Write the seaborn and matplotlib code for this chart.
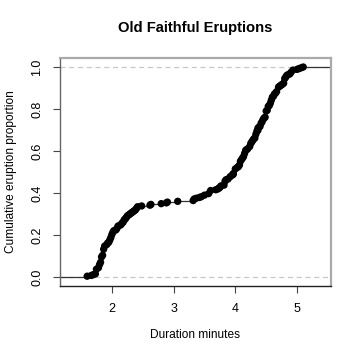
import numpy as np
import pandas as pd
import matplotlib
matplotlib.use("Agg")
import matplotlib.pyplot as plt
import seaborn as sns

title = "Old Faithful Eruptions"
x_label = "Duration minutes"
y_label = "Cumulative eruption proportion"
x_ticks = [2, 3, 4, 5]
y_ticks = [0.0, 0.2, 0.4, 0.6, 0.8, 1.0]

durations = [
    3.600, 1.800, 3.333, 2.283, 4.533, 2.883, 4.700, 3.600, 1.950, 4.350,
    1.833, 3.917, 4.200, 1.750, 4.700, 2.167, 1.750, 4.800, 1.600, 4.250,
    1.800, 1.750, 3.450, 3.067, 4.533, 3.600, 1.967, 4.083, 3.850, 4.433,
    4.300, 4.467, 3.367, 4.033, 3.833, 2.017, 1.867, 4.833, 1.833, 4.783,
    4.350, 1.883, 4.567, 1.750, 4.533, 3.317, 3.833, 2.100, 4.633, 2.000,
    4.800, 4.716, 1.833, 4.833, 1.733, 4.883, 3.717, 1.667, 4.567, 4.317,
    2.233, 4.500, 1.750, 4.800, 1.817, 4.400, 4.167, 4.700, 2.067, 4.700,
    4.033, 1.967, 4.500, 4.000, 1.983, 5.067, 2.017, 4.567, 3.883, 3.600,
    4.133, 4.333, 4.100, 2.633, 4.067, 4.933, 3.950, 4.517, 2.167, 4.000,
    2.200, 4.333, 1.867, 4.817, 1.833, 4.300, 4.667, 3.750, 1.867, 4.900,
    2.483, 4.367, 2.100, 4.500, 4.050, 1.867, 4.700, 1.783, 4.850, 3.683,
    4.733, 2.300, 4.900, 4.417, 1.700, 4.633, 2.317, 4.600, 1.817, 4.417,
    2.617, 4.067, 4.250, 1.967, 4.600, 3.767, 1.917, 4.500, 2.267, 4.650,
    1.867, 4.167, 2.800, 4.333, 1.833, 4.383, 1.883, 4.933, 2.033, 3.733,
    4.233, 2.233, 4.533, 4.817, 4.333, 1.983, 4.633, 2.017, 5.100, 1.800,
    5.033, 4.000, 2.400, 4.600, 3.567, 4.000, 4.500, 4.083, 1.800, 3.967,
    2.200, 4.150, 2.000, 3.833, 3.500, 4.583, 2.367, 5.000, 1.933, 4.617,
    1.917, 2.083, 4.583, 3.333, 4.167, 4.333, 4.500, 2.417, 4.000, 4.167,
    1.883, 4.583, 4.250, 3.767, 2.033, 4.433, 4.083, 1.833, 4.417, 2.183,
    4.800, 1.833, 4.800, 4.100, 3.966, 4.233, 3.500, 4.366, 2.250, 4.667,
    2.100, 4.350, 4.133, 1.867, 4.600, 1.783, 4.367, 3.850, 1.933, 4.500,
    2.383, 4.700, 1.867, 3.833, 3.417, 4.233, 2.400, 4.800, 2.000, 4.150,
    1.867, 4.267, 1.750, 4.483, 4.000, 4.117, 4.083, 4.267, 3.917, 4.550,
    4.083, 2.417, 4.183, 2.217, 4.450, 1.883, 1.850, 4.283, 3.950, 2.333,
    4.150, 2.350, 4.933, 2.900, 4.583, 3.833, 2.083, 4.367, 2.133, 4.350,
    2.200, 4.450, 3.567, 4.500, 4.150, 3.817, 3.917, 4.450, 2.000, 4.283,
    4.767, 4.533, 1.850, 4.250, 1.983, 2.250, 4.750, 4.117, 2.150, 4.417,
    1.817, 4.467,
]

x_lim = (1.16, 5.55)
y_lim = (-0.043, 1.043)

# ECDF at unique values
vals = np.sort(np.asarray(durations))
ux, counts = np.unique(vals, return_counts=True)
cum = np.cumsum(counts) / len(vals)
pts = pd.DataFrame({"duration": ux, "prop": cum})
steps = pd.DataFrame({
    "duration": np.concatenate([[x_lim[0]], ux, [x_lim[1]]]),
    "prop": np.concatenate([[0.0], cum, [1.0]]),
})

sns.set_style("white")
plt.rcParams["font.family"] = ["Liberation Sans", "DejaVu Sans"]
plt.rcParams["text.color"] = "black"
plt.rcParams["axes.labelcolor"] = "black"
plt.rcParams["xtick.color"] = "black"
plt.rcParams["ytick.color"] = "black"

fig = plt.figure(figsize=(3.6, 3.6), dpi=100)
ax = fig.add_axes([60/360, 1-286/360, 271/360, 228/360])

ax.axhline(0, color="#c8c8c8", lw=0.9, ls=(0, (4, 3)), zorder=1)
ax.axhline(1, color="#c8c8c8", lw=0.9, ls=(0, (4, 3)), zorder=1)

sns.lineplot(data=steps, x="duration", y="prop", estimator=None, sort=True,
             drawstyle="steps-post", color="#333333", lw=0.9, ax=ax, zorder=2)
sns.scatterplot(data=pts, x="duration", y="prop", color="black", s=28,
                edgecolor="none", ax=ax, zorder=3)

ax.set_xlim(*x_lim)
ax.set_ylim(*y_lim)
ax.set_xticks(x_ticks)
ax.set_xticklabels([str(t) for t in x_ticks])
ax.set_yticks(y_ticks)
ax.set_yticklabels([f"{t:.1f}" for t in y_ticks], rotation=90, va="center")
ax.tick_params(axis="both", direction="out", length=5, width=0.8,
               color="#444444", labelsize=9, labelcolor="black", pad=7,
               left=True, bottom=True)
ax.set_xlabel(x_label, fontsize=8.6, labelpad=10, color="black")
ax.set_ylabel(y_label, fontsize=8.6, labelpad=10, color="black")
ax.set_title(title, fontsize=10.6, fontweight="bold", pad=19, color="black")

for side in ["top", "right"]:
    ax.spines[side].set_color("#aaaaaa")
    ax.spines[side].set_linewidth(1.6)
ax.spines["left"].set_color("#666666")
ax.spines["bottom"].set_color("#222222")
for side in ["left", "bottom"]:
    ax.spines[side].set_linewidth(1.0)

fig.savefig("out.png", dpi=100)
